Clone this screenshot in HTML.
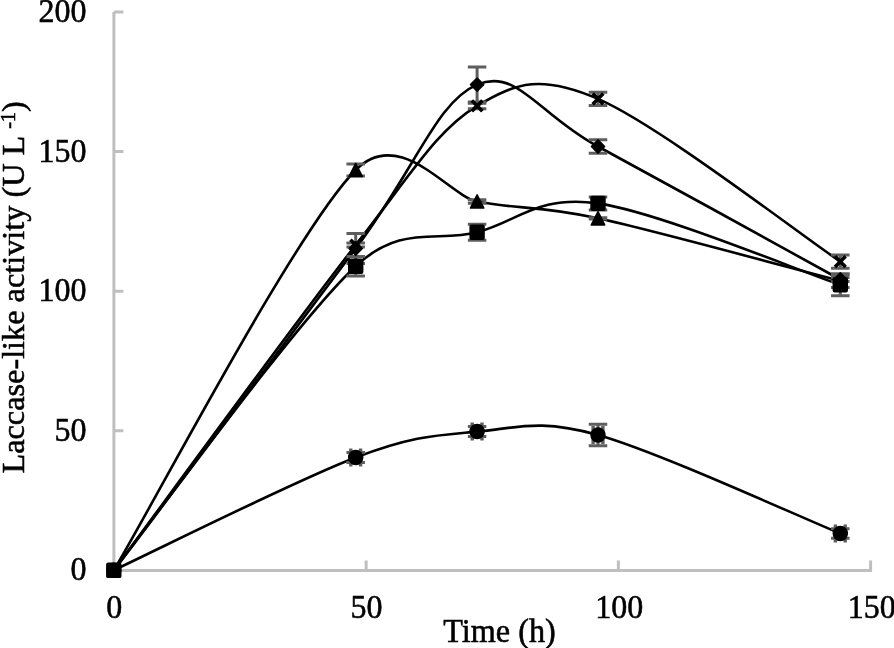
<!DOCTYPE html><html><head><meta charset="utf-8"><style>
html,body{margin:0;padding:0;background:#fff;width:894px;height:648px;overflow:hidden}
svg{display:block;filter:grayscale(1) blur(0.35px)}
text{font-family:"Liberation Serif",serif;font-size:32px;fill:#000;stroke:#000;stroke-width:0.55}
.m{fill:#000;stroke:#000;stroke-width:1.5;stroke-linejoin:round}
.x{fill:none;stroke:#000;stroke-width:3.6;stroke-linecap:butt}
.e{fill:none;stroke:#5e5e5e;stroke-width:3}
.l{fill:none;stroke:#000;stroke-width:2.6;stroke-linejoin:round}
.a{fill:none;stroke:#bfbfbf;stroke-width:3}
</style></head><body>
<svg width="894" height="648" viewBox="0 0 894 648">
<path d="M113.90,12 V570.40 H870.60 M113.90,430.80 H123.4 M113.90,291.20 H123.4 M113.90,151.60 H123.4 M113.90,12.00 H123.4 M366.13,571.90 V560.5 M618.37,571.90 V560.5 M870.60,571.90 V560.5" class="a"/>
<text transform="translate(86.5,580.40) scale(1,1.07)" text-anchor="end">0</text>
<text transform="translate(86.5,440.80) scale(1,1.07)" text-anchor="end">50</text>
<text transform="translate(86.5,301.20) scale(1,1.07)" text-anchor="end">100</text>
<text transform="translate(86.5,161.60) scale(1,1.07)" text-anchor="end">150</text>
<text transform="translate(86.5,22.00) scale(1,1.07)" text-anchor="end">200</text>
<text transform="translate(114.20,618.0) scale(1,1.07)" text-anchor="middle">0</text>
<text transform="translate(366.50,618.0) scale(1,1.07)" text-anchor="middle">50</text>
<text transform="translate(619.30,618.0) scale(1,1.07)" text-anchor="middle">100</text>
<text transform="translate(871.80,618.0) scale(1,1.07)" text-anchor="middle">150</text>
<text transform="translate(499.5,641.8) scale(1.007,1.07)" text-anchor="middle">Time (h)</text>
<text transform="translate(23.5,473.5) rotate(-90) scale(1.009,1)" x="0" y="0">Laccase-like activity (U L <tspan font-size="20" dy="-9">-1</tspan><tspan dy="9">)</tspan></text>
<path d="M113.80,570.20 C154.12,551.42 295.15,480.60 355.70,457.50 C413.69,435.38 436.72,435.35 477.10,431.60 C517.48,427.85 539.77,418.66 598.00,435.00 C658.53,451.98 799.92,517.08 840.30,533.50" class="l"/>
<path d="M113.80,570.20 C154.12,519.53 295.15,322.52 355.70,266.20 C401.85,223.28 436.72,242.77 477.10,232.30 C517.48,221.83 537.47,194.65 598.00,203.40 C658.53,212.15 799.92,271.23 840.30,284.80" class="l"/>
<path d="M113.80,570.20 C154.12,503.50 295.15,231.45 355.70,170.00 C399.71,125.33 449.24,195.95 477.10,201.50 C517.48,209.55 538.38,205.25 598.00,218.30 C658.53,231.55 799.92,270.55 840.30,281.00" class="l"/>
<path d="M113.80,570.20 C154.12,516.00 295.15,322.38 355.70,245.00 C412.59,172.30 436.72,130.25 477.10,105.90 C517.48,81.55 542.35,75.04 598.00,98.90 C658.53,124.85 799.92,234.48 840.30,261.60" class="l"/>
<path d="M113.80,570.20 C154.12,516.58 295.15,329.43 355.70,248.50 C416.25,167.57 436.72,101.60 477.10,84.60 C517.48,67.60 538.16,114.39 598.00,146.50 C658.53,178.98 799.92,257.33 840.30,279.50" class="l"/>
<path d="M355.70,452.50 V462.50 M346.45,452.50 H364.95 M346.45,462.50 H364.95" class="e"/><path d="M350.80,457.50 H360.60 M350.80,448.50 V466.50 M360.60,448.50 V466.50" class="e" style="stroke-width:3.4"/>
<path d="M477.10,426.60 V436.60 M467.85,426.60 H486.35 M467.85,436.60 H486.35" class="e"/><path d="M472.20,431.60 H482.00 M472.20,422.60 V440.60 M482.00,422.60 V440.60" class="e" style="stroke-width:3.4"/>
<path d="M598.00,424.30 V445.70 M588.75,424.30 H607.25 M588.75,445.70 H607.25" class="e"/><path d="M593.10,435.00 H602.90 M593.10,426.00 V444.00 M602.90,426.00 V444.00" class="e" style="stroke-width:3.4"/>
<path d="M840.30,528.80 V538.20 M831.05,528.80 H849.55 M831.05,538.20 H849.55" class="e"/><path d="M835.40,533.50 H845.20 M835.40,524.50 V542.50 M845.20,524.50 V542.50" class="e" style="stroke-width:3.4"/>
<path d="M355.70,256.45 V275.95 M346.45,256.45 H364.95 M346.45,275.95 H364.95" class="e"/>
<path d="M477.10,224.30 V240.30 M467.85,224.30 H486.35 M467.85,240.30 H486.35" class="e"/>
<path d="M598.00,196.90 V209.90 M588.75,196.90 H607.25 M588.75,209.90 H607.25" class="e"/>
<path d="M840.30,273.80 V295.80 M831.05,273.80 H849.55 M831.05,295.80 H849.55" class="e"/>
<path d="M355.70,164.00 V176.00 M346.45,164.00 H364.95 M346.45,176.00 H364.95" class="e"/>
<path d="M477.10,199.70 V203.30 M467.85,199.70 H486.35 M467.85,203.30 H486.35" class="e"/>
<path d="M598.00,217.70 V218.90 M588.75,217.70 H607.25 M588.75,218.90 H607.25" class="e"/>
<path d="M840.30,274.50 V287.50 M831.05,274.50 H849.55 M831.05,287.50 H849.55" class="e"/>
<path d="M355.70,242.90 V247.10 M346.45,242.90 H364.95 M346.45,247.10 H364.95" class="e"/>
<path d="M477.10,103.15 V108.65 M467.85,103.15 H486.35 M467.85,108.65 H486.35" class="e"/>
<path d="M598.00,92.30 V105.50 M588.75,92.30 H607.25 M588.75,105.50 H607.25" class="e"/>
<path d="M840.30,255.00 V268.20 M831.05,255.00 H849.55 M831.05,268.20 H849.55" class="e"/>
<path d="M355.70,233.50 V263.50 M346.45,233.50 H364.95 M346.45,263.50 H364.95" class="e"/>
<path d="M477.10,67.10 V102.10 M467.85,67.10 H486.35 M467.85,102.10 H486.35" class="e"/>
<path d="M598.00,139.70 V153.30 M588.75,139.70 H607.25 M588.75,153.30 H607.25" class="e"/>
<path d="M840.30,277.50 V281.50 M831.05,277.50 H849.55 M831.05,281.50 H849.55" class="e"/>
<circle cx="113.80" cy="570.20" r="7" class="m"/>
<circle cx="355.70" cy="457.50" r="7" class="m"/>
<circle cx="477.10" cy="431.60" r="7" class="m"/>
<circle cx="598.00" cy="435.00" r="7" class="m"/>
<circle cx="840.30" cy="533.50" r="7" class="m"/>
<rect x="107.10" y="563.50" width="13.4" height="13.4" rx="1" class="m" style="stroke-width:2"/>
<rect x="349.00" y="259.50" width="13.4" height="13.4" rx="1" class="m" style="stroke-width:2"/>
<rect x="470.40" y="225.60" width="13.4" height="13.4" rx="1" class="m" style="stroke-width:2"/>
<rect x="591.30" y="196.70" width="13.4" height="13.4" rx="1" class="m" style="stroke-width:2"/>
<rect x="833.60" y="278.10" width="13.4" height="13.4" rx="1" class="m" style="stroke-width:2"/>
<path d="M113.80,563.60 L120.50,576.80 L107.10,576.80 Z" class="m"/>
<path d="M355.70,163.40 L362.40,176.60 L349.00,176.60 Z" class="m"/>
<path d="M477.10,194.90 L483.80,208.10 L470.40,208.10 Z" class="m"/>
<path d="M598.00,211.70 L604.70,224.90 L591.30,224.90 Z" class="m"/>
<path d="M840.30,274.40 L847.00,287.60 L833.60,287.60 Z" class="m"/>
<path d="M108.50,564.90 L119.10,575.50 M108.50,575.50 L119.10,564.90" class="x"/>
<path d="M350.40,239.70 L361.00,250.30 M350.40,250.30 L361.00,239.70" class="x"/>
<path d="M471.80,100.60 L482.40,111.20 M471.80,111.20 L482.40,100.60" class="x"/>
<path d="M592.70,93.60 L603.30,104.20 M592.70,104.20 L603.30,93.60" class="x"/>
<path d="M835.00,256.30 L845.60,266.90 M835.00,266.90 L845.60,256.30" class="x"/>
<path d="M113.80,563.60 L120.40,570.20 L113.80,576.80 L107.20,570.20 Z" class="m"/>
<path d="M355.70,241.90 L362.30,248.50 L355.70,255.10 L349.10,248.50 Z" class="m"/>
<path d="M477.10,78.00 L483.70,84.60 L477.10,91.20 L470.50,84.60 Z" class="m"/>
<path d="M598.00,139.90 L604.60,146.50 L598.00,153.10 L591.40,146.50 Z" class="m"/>
<path d="M840.30,272.90 L846.90,279.50 L840.30,286.10 L833.70,279.50 Z" class="m"/>
</svg></body></html>
